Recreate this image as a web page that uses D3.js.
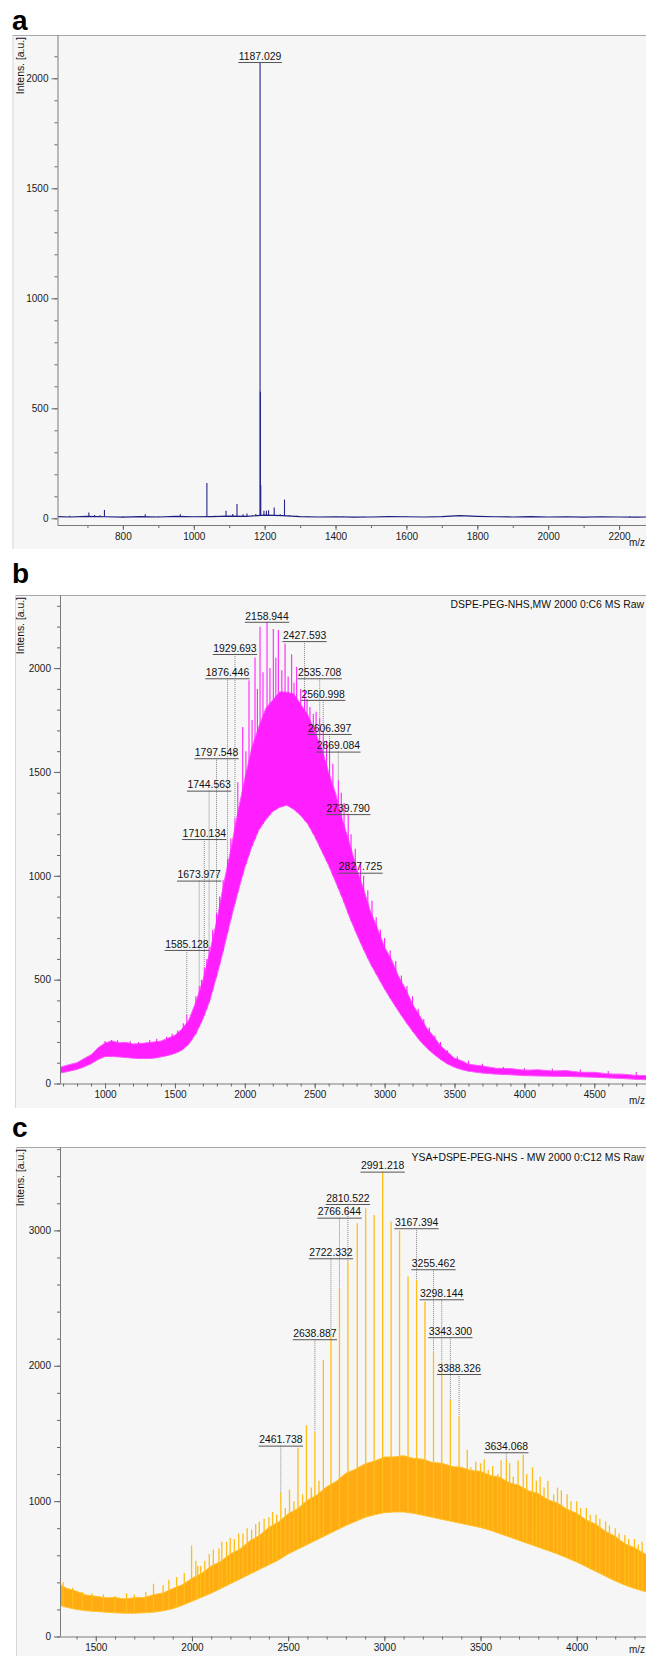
<!DOCTYPE html>
<html><head><meta charset="utf-8">
<script src="https://cdn.jsdelivr.net/npm/d3@7"></script>
<style>
body{margin:0;background:#fff;}
text{font-family:"Liberation Sans",Arial,sans-serif;}
</style>
</head><body>
<script>
// ---------------- Panel a data ----------------
const aBaseMz  = [615,650,700,750,800,850,900,950,1000,1050,1100,1150,1200,1250,1300,1350,1400,1450,1500,1550,1600,1650,1700,1750,1800,1850,1900,1950,2000,2050,2100,2150,2200,2250,2276];
const aBaseInt = [8,6,9,7,5,8,6,9,7,8,10,9,14,12,8,6,7,5,6,8,7,6,8,12,9,7,6,8,6,7,5,7,6,5,6];
const aSpikeMz  = [650,680,704,720,735,748,800,863,900,962,1005,1037,1060,1091,1110,1122,1139,1150,1165,1175,1187.029,1188.0,1189.0,1198,1205,1211,1227,1244,1256,1270,1290,1320,1420,1480,1560,1600,1700,1740,1749,1757,1770,1800,1880,1950,2050,2150,2230];
const aSpikeInt = [12,10,26,15,14,38,8,18,9,18,10,160,12,34,20,65,18,22,15,20,2074,575,150,34,34,37,49,18,85,14,12,10,9,8,10,10,9,12,14,12,10,9,8,10,9,8,9];
const aLabelMz = [1187.029];
const aLabelLevel = [2074];
const aLabelPeak = [2074];
const aYTicks = [0,500,1000,1500,2000];
const aXTicks = [800,1000,1200,1400,1600,1800,2000,2200];

// ---------------- Panel b data ----------------
const bMz = [680,750,800,850,900,950,1000,1050,1100,1150,1200,1250,1300,1350,1400,1450,1500,1550,1600,1650,1700,1750,1800,1850,1900,1950,2000,2050,2100,2150,2200,2250,2300,2350,2400,2450,2500,2550,2600,2650,2700,2750,2800,2850,2900,2950,3000,3050,3100,3150,3200,3250,3300,3350,3400,3450,3500,3550,3600,3700,3800,3900,4000,4100,4200,4300,4400,4500,4600,4700,4800,4870];
const bLo = [50,60,68,80,95,115,130,130,128,125,122,120,120,122,128,135,145,160,190,240,310,400,520,650,790,920,1040,1140,1220,1270,1310,1330,1340,1320,1290,1250,1190,1120,1050,970,890,800,720,645,575,515,455,400,348,298,252,208,172,142,116,94,78,67,59,50,45,42,38,36,35,34,32,30,27,24,20,18];
const bHi = [78,92,100,120,138,172,195,205,196,198,190,192,196,200,204,218,232,262,306,392,496,634,786,964,1126,1306,1466,1616,1716,1806,1846,1886,1884,1876,1826,1776,1696,1616,1496,1396,1266,1156,1036,936,826,746,656,596,516,456,382,328,268,228,182,152,122,110,93,84,73,72,64,66,60,62,54,54,46,45,39,38];
const bSpikeMz = [1000,1045,1090,1180,1240,1320,1370,1440,1480,1520,1560,1585.128,1620,1650,1673.977,1690,1710.134,1728,1744.563,1770,1797.548,1820,1845,1876.446,1900,1929.693,1950,1985,2008,2030,2052,2073,2090,2109,2130,2158.944,2180,2204,2222,2240,2265,2288,2310,2335,2352,2371,2400,2427.593,2445,2466,2490,2510,2535.708,2560.998,2585,2606.397,2630,2669.084,2690,2710,2739.790,2760,2790,2827.725,2850,2880,2910,2940,2970,3000,3040,3080,3120,3160,3200,3240,3280,3320,3360,3400,3450,3520,3600,3700,3850,4000,4200,4400,4600,4800];
const bSpikeInt = [205,210,208,205,200,210,215,225,240,255,290,330,330,420,470,500,560,600,660,740,820,900,980,1080,1180,1280,1450,1717,1600,1942,1750,2051,1900,2199,1980,2223,2000,2188,2050,2183,1990,2119,1960,2067,1930,2006,1900,1894,1850,1813,1780,1790,1760,1700,1650,1620,1540,1460,1400,1350,1300,1200,1130,1060,1000,930,880,800,740,700,640,590,520,470,420,360,310,270,230,200,160,130,110,95,80,75,72,68,60,55];
const bLabelMz = [2158.944,2427.593,1929.693,1876.446,2535.708,2560.998,2606.397,2669.084,1797.548,1744.563,2739.790,1710.134,2827.725,1673.977,1585.128];
const bLabelLevel = [2223,2130,2068,1951,1951,1847,1683,1598,1566,1410,1297,1177,1015,977,643];
const bLabelPeak = [2223,1894,1280,1080,1760,1700,1620,1460,820,660,1300,560,1060,470,330];
const bYTicks = [0,500,1000,1500,2000];
const bXTicks = [1000,1500,2000,2500,3000,3500,4000,4500];
const bTitle = "DSPE-PEG-NHS,MW 2000 0:C6 MS Raw";

// ---------------- Panel c data ----------------
const cMz = [1314,1350,1400,1450,1500,1550,1600,1650,1700,1750,1800,1850,1900,1950,2000,2050,2100,2150,2200,2250,2300,2350,2400,2450,2500,2550,2600,2650,2700,2750,2800,2850,2900,2950,3000,3050,3100,3150,3200,3250,3300,3350,3400,3450,3500,3550,3600,3650,3700,3750,3800,3850,3900,3950,4000,4050,4100,4150,4200,4250,4300,4360];
const cLo = [230,215,200,190,185,180,175,172,172,175,180,190,205,230,260,290,320,355,390,425,460,495,530,565,610,645,680,715,750,785,820,850,880,900,915,920,920,910,895,880,865,850,835,820,805,785,760,735,710,685,660,635,610,580,550,515,480,445,410,380,355,330];
const cHi = [385,355,334,306,298,286,288,278,286,288,308,322,354,382,430,466,520,556,610,646,706,746,806,846,906,946,1006,1046,1106,1146,1206,1236,1276,1296,1326,1326,1336,1316,1310,1286,1280,1256,1250,1226,1220,1190,1176,1136,1116,1076,1056,1010,986,940,910,860,830,776,740,686,656,606];
const cSpikeMz = [1330,1380,1430,1480,1540,1600,1660,1700,1760,1800,1850,1880,1920,1960,1998,2020,2030,2045,2067,2090,2111,2140,2155,2180,2199,2220,2243,2265,2287,2310,2331,2350,2375,2400,2419,2440,2461.738,2485,2507,2530,2551,2575,2595,2620,2638.887,2660,2683,2722.332,2766.644,2810.522,2859,2903,2947,2991.218,3035,3079,3123,3167.394,3211,3255.462,3298.144,3343.300,3388.326,3431,3450,3475,3500,3519,3540,3563,3590,3607,3634.068,3651,3670,3695,3722,3740,3770,3790,3810,3830,3850,3880,3900,3920,3950,3970,4000,4020,4050,4070,4100,4120,4150,4170,4200,4220,4250,4270,4300,4320,4340];
const cSpikeInt = [400,360,330,320,310,300,320,310,330,390,380,420,440,470,672,560,520,520,560,610,640,650,700,700,730,720,760,760,800,790,830,850,870,880,920,900,1062,950,1085,1000,1395,1050,1560,1100,1515,1150,2044,2220,2575,2770,3053,3163,3114,3434,3065,2999,2659,2634,2475,2105,2032,1749,1626,1380,1250,1290,1280,1310,1230,1260,1200,1300,1306,1280,1180,1300,1343,1200,1250,1150,1180,1100,1150,1050,1100,1080,1050,1000,1000,950,950,900,900,870,850,820,800,760,750,720,720,680,700];
const cLabelMz = [2991.218,2810.522,2766.644,3167.394,2722.332,3255.462,3298.144,3343.300,2638.887,3388.326,2461.738,3634.068];
const cLabelLevel = [3434,3195,3094,3016,2794,2713,2491,2211,2196,1939,1410,1361];
const cLabelPeak = [3434,2770,2575,2634,2220,2105,2032,1749,1515,1626,1062,1306];
const cYTicks = [0,1000,2000,3000];
const cXTicks = [1500,2000,2500,3000,3500,4000];
const cTitle = "YSA+DSPE-PEG-NHS - MW 2000 0:C12 MS Raw";

// ---------------- drawing ----------------
const W = 646, H = 1656;
const svg = d3.select("body").append("svg").attr("width", W).attr("height", H);

function panel(p) {
  const g = svg.append("g");
  g.append("rect").attr("x", p.bgX).attr("y", p.top).attr("width", W - p.bgX)
    .attr("height", p.bgBottom - p.top).attr("fill", "#f6f6f6");
  g.append("line").attr("x1", p.bgX).attr("x2", W).attr("y1", p.top + 0.5).attr("y2", p.top + 0.5)
    .attr("stroke", "#a8a8a8");
  g.append("line").attr("x1", p.bgX + 0.5).attr("x2", p.bgX + 0.5).attr("y1", p.top).attr("y2", p.bgBottom)
    .attr("stroke", "#d6d6d6");
  g.append("text").attr("x", 12).attr("y", p.letterY).attr("font-size", 28)
    .attr("font-weight", "bold").attr("fill", "#000").text(p.letter);
  g.append("text").attr("transform", `translate(24,${p.top + 2}) rotate(-90)`)
    .attr("text-anchor", "end").attr("font-size", 10.4).attr("fill", "#111").text("Intens. [a.u.]");

  const x = d3.scaleLinear().domain(p.xDomain).range([p.axisX, W]);
  const y = d3.scaleLinear().domain([0, p.yMax]).range([p.zeroY, p.top]);

  const clipId = "clip" + p.letter;
  svg.append("defs").append("clipPath").attr("id", clipId).append("rect")
    .attr("x", p.axisX + 0.5).attr("y", p.top + 1).attr("width", W - p.axisX).attr("height", p.axisY - p.top - 1);
  const d = g.append("g").attr("clip-path", `url(#${clipId})`);

  let baseScale;
  if (p.bandMz) {
    const idx = d3.range(p.bandMz.length);
    d.append("path").datum(idx)
      .attr("d", d3.area().x(i => x(p.bandMz[i])).y0(i => y(p.bandLo[i])).y1(i => y(p.bandHi[i])))
      .attr("fill", p.bandColor).attr("fill-opacity", p.bandOpacity);
    d.append("path").datum(idx)
      .attr("d", d3.line().x(i => x(p.bandMz[i])).y(i => y(p.bandHi[i])))
      .attr("fill", "none").attr("stroke", p.edgeColor).attr("stroke-width", 1);
    d.append("path").datum(idx)
      .attr("d", d3.line().x(i => x(p.bandMz[i])).y(i => y(p.bandLo[i])))
      .attr("fill", "none").attr("stroke", p.edgeColor).attr("stroke-width", 1);
    baseScale = d3.scaleLinear().domain(p.bandMz).range(p.bandLo).clamp(true);
  } else {
    const idx = d3.range(p.baseMz.length);
    d.append("path").datum(idx)
      .attr("d", d3.line().x(i => x(p.baseMz[i])).y(i => y(p.baseInt[i])))
      .attr("fill", "none").attr("stroke", p.lineColor).attr("stroke-width", 1.2);
    baseScale = d3.scaleLinear().domain(p.baseMz).range(p.baseInt).clamp(true);
  }
  d.selectAll("line.sp").data(d3.range(p.spikeMz.length)).join("line")
    .attr("class", "sp")
    .attr("x1", i => x(p.spikeMz[i])).attr("x2", i => x(p.spikeMz[i]))
    .attr("y1", i => y(baseScale(p.spikeMz[i]))).attr("y2", i => y(p.spikeInt[i]))
    .attr("stroke", p.spikeColor).attr("stroke-width", p.spikeWidth);

  // axes
  const yMinorAxis = d3.axisLeft(y).tickValues(d3.range(0, p.yMax, p.yMinorStep)).tickSize(3).tickFormat("");
  const yMajorAxis = d3.axisLeft(y).tickValues(p.yTicks).tickSize(6).tickPadding(3).tickFormat(d3.format("d"));
  const xMinorAxis = d3.axisBottom(x).tickValues(d3.range(Math.ceil(p.xDomain[0] / 100) * 100, p.xDomain[1], 100)).tickSize(3).tickFormat("");
  const xMajorAxis = d3.axisBottom(x).tickValues(p.xTicks).tickSize(5).tickPadding(2.4).tickFormat(d3.format("d"));

  const yA1 = g.append("g").attr("transform", `translate(${p.axisX},0)`).call(yMinorAxis);
  const yA2 = g.append("g").attr("transform", `translate(${p.axisX},0)`).call(yMajorAxis);
  const xA1 = g.append("g").attr("transform", `translate(0,${p.axisY})`).call(xMinorAxis);
  const xA2 = g.append("g").attr("transform", `translate(0,${p.axisY})`).call(xMajorAxis);
  [yA1, yA2, xA1, xA2].forEach(a => {
    a.select(".domain").remove();
    a.selectAll("line").attr("stroke", "#666");
    a.selectAll("text").attr("font-size", 10).attr("fill", "#1a1a1a")
      .attr("font-family", "'Liberation Sans', Arial, sans-serif");
  });
  g.append("line").attr("x1", p.axisX + 0.5).attr("x2", p.axisX + 0.5).attr("y1", p.top).attr("y2", p.axisY)
    .attr("stroke", "#7a7a7a");
  g.append("line").attr("x1", p.axisX).attr("x2", W).attr("y1", p.axisY + 0.5).attr("y2", p.axisY + 0.5)
    .attr("stroke", "#7a7a7a");
  g.append("text").attr("x", 645).attr("y", Math.min(p.axisY + 20.5, H - 3)).attr("text-anchor", "end")
    .attr("font-size", 10).attr("fill", "#1a1a1a").text("m/z");

  if (p.title) {
    g.append("text").attr("x", 644).attr("y", p.titleY).attr("text-anchor", "end")
      .attr("font-size", 10.4).attr("fill", "#111").text(p.title);
  }

  // peak labels
  const L = g.append("g");
  p.labelMz.forEach((m, i) => {
    const lx = x(m), ly = y(p.labelLevel[i]), py = y(p.labelPeak[i]);
    if (py - ly > 1) {
      L.append("line").attr("x1", lx).attr("x2", lx).attr("y1", ly).attr("y2", py)
        .attr("stroke", "#6a6a6a").attr("stroke-width", 0.8).attr("stroke-dasharray", "1,1");
    }
    const t = L.append("text").attr("x", lx).attr("y", ly - 2.2).attr("text-anchor", "middle")
      .attr("font-size", 10.4).attr("fill", "#111").text(m.toFixed(3));
    const w = t.node().getComputedTextLength();
    L.append("line").attr("x1", lx - w / 2 - 0.5).attr("x2", lx + w / 2 + 0.5)
      .attr("y1", ly + 0.5).attr("y2", ly + 0.5).attr("stroke", "#555").attr("stroke-width", 1);
  });
}

panel({
  letter: "a", letterY: 30, top: 35, bgX: 12.5, bgBottom: 549,
  axisX: 57.5, zeroY: 518.3, axisY: 525, yMax: 2196.8, xDomain: [615.5, 2276],
  yTicks: aYTicks, yMinorStep: 100, xTicks: aXTicks,
  baseMz: aBaseMz, baseInt: aBaseInt, lineColor: "#1d1d7e",
  spikeMz: aSpikeMz, spikeInt: aSpikeInt, spikeColor: "#24248a", spikeWidth: 1.1,
  labelMz: aLabelMz, labelLevel: aLabelLevel, labelPeak: aLabelPeak
});

panel({
  letter: "b", letterY: 583, top: 595, bgX: 15, bgBottom: 1108,
  axisX: 60, zeroY: 1083.5, axisY: 1083.5, yMax: 2352, xDomain: [678, 4870],
  yTicks: bYTicks, yMinorStep: 100, xTicks: bXTicks,
  bandMz: bMz, bandLo: bLo, bandHi: bHi, bandColor: "#ff00ff", bandOpacity: 0.88, edgeColor: "#ff55ff",
  spikeMz: bSpikeMz, spikeInt: bSpikeInt, spikeColor: "#ff22ff", spikeWidth: 1.1,
  labelMz: bLabelMz, labelLevel: bLabelLevel, labelPeak: bLabelPeak,
  title: bTitle, titleY: 608
});

panel({
  letter: "c", letterY: 1137, top: 1147, bgX: 16, bgBottom: 1656,
  axisX: 60, zeroY: 1636.5, axisY: 1636.5, yMax: 3616, xDomain: [1314, 4360],
  yTicks: cYTicks, yMinorStep: 200, xTicks: cXTicks,
  bandMz: cMz, bandLo: cLo, bandHi: cHi, bandColor: "#ffa400", bandOpacity: 0.92, edgeColor: "#ffc22e",
  spikeMz: cSpikeMz, spikeInt: cSpikeInt, spikeColor: "#ffbe16", spikeWidth: 1.3,
  labelMz: cLabelMz, labelLevel: cLabelLevel, labelPeak: cLabelPeak,
  title: cTitle, titleY: 1160.5
});
</script>
</body></html>
